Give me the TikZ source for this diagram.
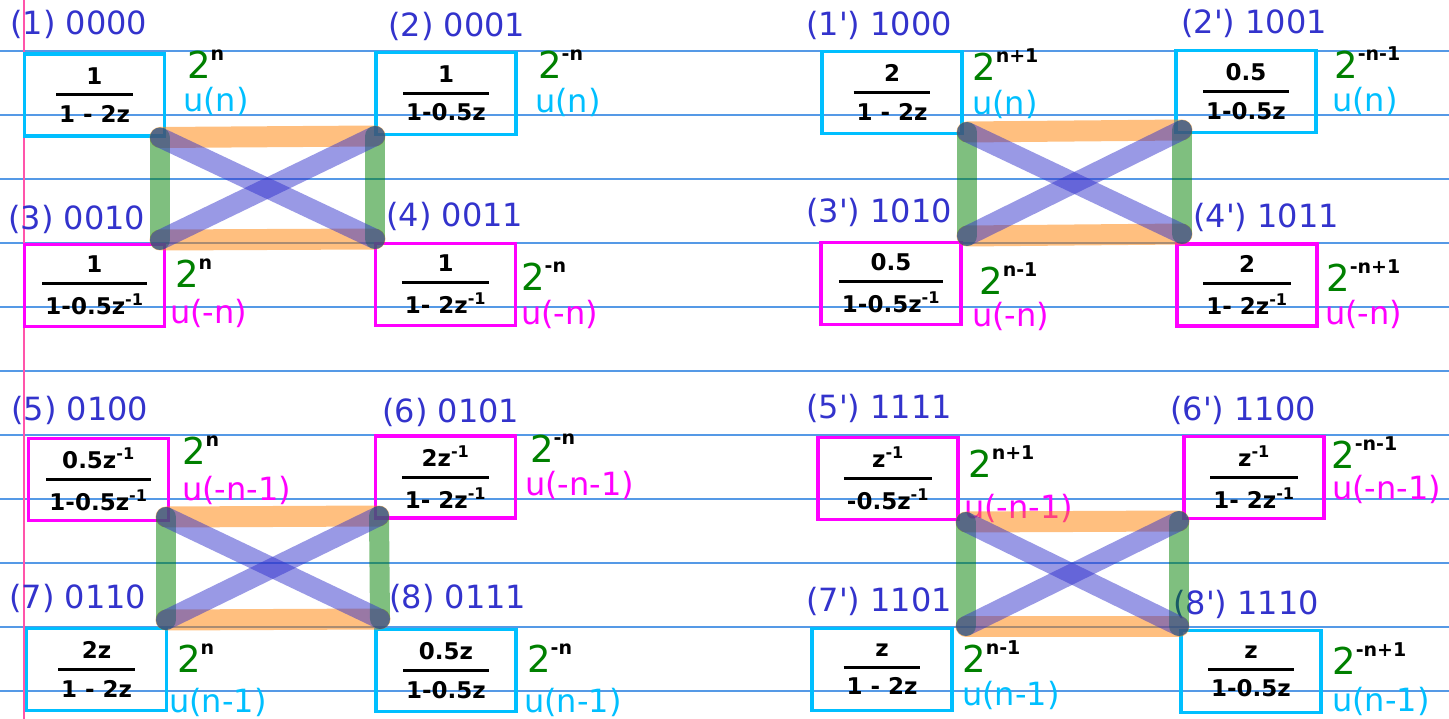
\documentclass[tikz,border=0pt]{standalone}
\usepackage{amsmath}
\usepackage{fontspec}
\setmainfont{DejaVu Sans}[Ligatures=TeXOff]
\usetikzlibrary{positioning}
\usepackage{xcolor}

\definecolor{labblue}{HTML}{3333CC}
\definecolor{ucyan}{HTML}{00BFFF}
\definecolor{umag}{HTML}{FF00FF}
\definecolor{expgreen}{HTML}{008000}
\definecolor{ruleblue}{HTML}{5599E6}
\definecolor{marginpink}{HTML}{FF55AA}
\definecolor{pairorange}{HTML}{FF8000}

\newcommand{\zfrac}[2]{$\displaystyle\genfrac{}{}{3pt}{0}{\text{#1}}{\text{\kern3pt#2\kern3pt}}$}
\newcommand{\zinv}{\textsuperscript{-1}}
\newcommand{\twopow}[1]{{\color{expgreen}\fontsize{37}{40}\selectfont 2}\raisebox{18pt}{\fontsize{19}{22}\selectfont\bfseries #1}}

\begin{document}
\begin{tikzpicture}[x=1pt, y=-1pt,
  box/.style={rectangle, draw, line width=3.5pt, minimum width=140pt, minimum height=82pt,
    inner sep=0pt, font=\fontsize{23}{27}\selectfont\bfseries},
  causal/.style={box, draw=ucyan},
  anticausal/.style={box, draw=umag},
  tag/.style={anchor=west, inner sep=0pt, text=labblue, font=\fontsize{32}{36}\selectfont},
  ulab/.style={anchor=west, inner sep=0pt, font=\fontsize{32}{36}\selectfont},
  gain/.style={anchor=base west, inner sep=0pt},
  hedge/.style={line width=21pt, line cap=round, draw=pairorange, opacity=0.5},
  vedge/.style={line width=20pt, line cap=round, draw=expgreen, opacity=0.5},
  xedge/.style={line width=20pt, line cap=round, draw=labblue, opacity=0.5}
]
\useasboundingbox (0,0) rectangle (1449,719);

% ruled paper
\foreach \y in {51,115,...,691}
  \draw[ruleblue, line width=1.5pt] (0,\y) -- (1449,\y);
\draw[marginpink, line width=2pt] (23.5,0) -- (23.5,719);

% left half
\node (b1) [causal] at (94.5,95) {\zfrac{1}{1 - 2z}};
\node (b2) [causal] at (446,93.5) {\zfrac{1}{1-0.5z}};
\node (b3) [anticausal] at (94.5,285.5) {\zfrac{1}{1-0.5z\zinv}};
\node (b4) [anticausal] at (445.5,284.5) {\zfrac{1}{1- 2z\zinv}};
\node (b5) [anticausal] at (98.5,479.5) {\zfrac{0.5z\zinv}{1-0.5z\zinv}};
\node (b6) [anticausal] at (445.5,477) {\zfrac{2z\zinv}{1- 2z\zinv}};
\node (b7) [causal] at (96.5,669.5) {\zfrac{2z}{1 - 2z}};
\node (b8) [causal] at (446,670.5) {\zfrac{0.5z}{1-0.5z}};

\node (t1) [tag] at (10,24) {(1) 0000};
\node (t2) [tag] at (388,26) {(2) 0001};
\node (t3) [tag] at (8,219) {(3) 0010};
\node (t4) [tag] at (386,216) {(4) 0011};
\node (t5) [tag] at (11,410) {(5) 0100};
\node (t6) [tag] at (382,412) {(6) 0101};
\node (t7) [tag] at (9,598) {(7) 0110};
\node (t8) [tag] at (389,598) {(8) 0111};

\node (g1) [gain] at (187,79) {\twopow{n}};
\node (g2) [gain] at (538,79) {\twopow{-n}};
\node (g3) [gain] at (175,288) {\twopow{n}};
\node (g4) [gain] at (521,291) {\twopow{-n}};
\node (g5) [gain] at (182,464) {\twopow{n}};
\node (g6) [gain] at (530,462) {\twopow{-n}};
\node (g7) [gain] at (177,672) {\twopow{n}};
\node (g8) [gain] at (527,672) {\twopow{-n}};

\node (u1) [ulab, text=ucyan] at (183,101) {u(n)};
\node (u2) [ulab, text=ucyan] at (535,102) {u(n)};
\node (u3) [ulab, text=umag] at (170,313) {u(-n)};
\node (u4) [ulab, text=umag] at (521,314) {u(-n)};
\node (u5) [ulab, text=umag] at (182,490) {u(-n-1)};
\node (u6) [ulab, text=umag] at (525,485) {u(-n-1)};
\node (u7) [ulab, text=ucyan] at (169,702) {u(n-1)};
\node (u8) [ulab, text=ucyan] at (524,702) {u(n-1)};

% right half
\node (b1p) [causal] at (892,92.5) {\zfrac{2}{1 - 2z}};
\node (b2p) [causal] at (1246,91.5) {\zfrac{0.5}{1-0.5z}};
\node (b3p) [anticausal] at (891,283.5) {\zfrac{0.5}{1-0.5z\zinv}};
\node (b4p) [anticausal] at (1247,285) {\zfrac{2}{1- 2z\zinv}};
\node (b5p) [anticausal] at (888,478.5) {\zfrac{z\zinv}{-0.5z\zinv}};
\node (b6p) [anticausal] at (1254,477.5) {\zfrac{z\zinv}{1- 2z\zinv}};
\node (b7p) [causal] at (882,669.5) {\zfrac{z}{1 - 2z}};
\node (b8p) [causal] at (1251,671.5) {\zfrac{z}{1-0.5z}};

\node (t1p) [tag] at (806,25) {(1') 1000};
\node (t2p) [tag] at (1181,23) {(2') 1001};
\node (t3p) [tag] at (806,212) {(3') 1010};
\node (t4p) [tag] at (1193,217) {(4') 1011};
\node (t5p) [tag] at (806,408) {(5') 1111};
\node (t6p) [tag] at (1170,410) {(6') 1100};
\node (t7p) [tag] at (806,601) {(7') 1101};
\node (t8p) [tag] at (1173,604) {(8') 1110};

\node (g1p) [gain] at (972,81) {\twopow{n+1}};
\node (g2p) [gain] at (1334,79) {\twopow{-n-1}};
\node (g3p) [gain] at (979,295) {\twopow{n-1}};
\node (g4p) [gain] at (1326,292) {\twopow{-n+1}};
\node (g5p) [gain] at (968,477) {\twopow{n+1}};
\node (g6p) [gain] at (1331,468) {\twopow{-n-1}};
\node (g7p) [gain] at (962,672) {\twopow{n-1}};
\node (g8p) [gain] at (1332,674) {\twopow{-n+1}};

\node (u1p) [ulab, text=ucyan] at (972,104) {u(n)};
\node (u2p) [ulab, text=ucyan] at (1332,101) {u(n)};
\node (u3p) [ulab, text=umag] at (972,316) {u(-n)};
\node (u4p) [ulab, text=umag] at (1325,314) {u(-n)};
\node (u5p) [ulab, text=umag] at (964,508) {u(-n-1)};
\node (u6p) [ulab, text=umag] at (1332,489) {u(-n-1)};
\node (u7p) [ulab, text=ucyan] at (962,695) {u(n-1)};
\node (u8p) [ulab, text=ucyan] at (1332,701) {u(n-1)};

% butterfly corners
\coordinate (p1) at (160,137.5);  \coordinate (p2) at (375,136);
\coordinate (p3) at (160,240);    \coordinate (p4) at (375,239);
\coordinate (q1) at (967,132);    \coordinate (q2) at (1182,130);
\coordinate (q3) at (967,236);    \coordinate (q4) at (1182,234);
\coordinate (r1) at (166,517);    \coordinate (r2) at (379,516);
\coordinate (r3) at (166,620);    \coordinate (r4) at (380,619);
\coordinate (s1) at (966,522);    \coordinate (s2) at (1179,521);
\coordinate (s3) at (966,626);    \coordinate (s4) at (1179,626);

\foreach \c in {p,q,r,s} {
  \draw[hedge] (\c1) -- (\c2);
  \draw[hedge] (\c3) -- (\c4);
  \draw[vedge] (\c1) -- (\c3);
  \draw[vedge] (\c2) -- (\c4);
  \draw[xedge] (\c1) -- (\c4);
  \draw[xedge] (\c3) -- (\c2);
}

\end{tikzpicture}
\end{document}
